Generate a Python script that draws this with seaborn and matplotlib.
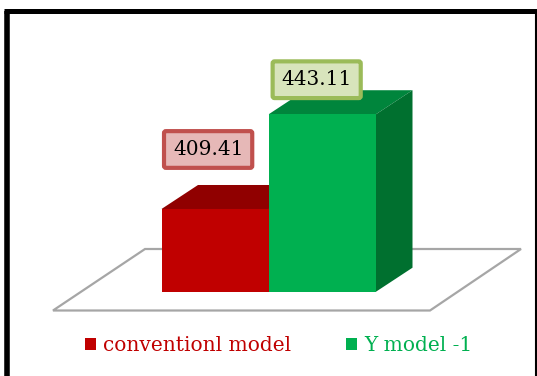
import matplotlib
matplotlib.use("Agg")
import matplotlib.pyplot as plt
import pandas as pd
import seaborn as sns
from matplotlib.lines import Line2D
from matplotlib.patches import Polygon
from matplotlib.transforms import IdentityTransform

models = ["conventionl model", "Y model -1"]
values = [409.41, 443.11]
front_colors = ["#C00000", "#00B050"]
top_colors = ["#900000", "#00853C"]
side_colors = ["#7A0000", "#00702F"]
label_faces = ["#E6B8B7", "#D8E4BC"]
label_edges = ["#C0504D", "#9BBB59"]
label_offsets = [(-7, 59.5), (-5.7, 34.5)]

W, H = 537, 376
DEPTH_X, DEPTH_Y = 36.5, 24


def fig_xy(px, py):
    return px / W, 1 - py / H


sns.set_theme(style="white")
plt.rcParams["font.family"] = ["DejaVu Serif"]

fig = plt.figure(figsize=(W / 100, H / 100), dpi=100, facecolor="white")
left, right, top, bottom = 161.5, 376, 61.1, 291.7
ax = fig.add_axes([left / W, 1 - bottom / H, (right - left) / W, (bottom - top) / H])

data = pd.DataFrame({"model": models, "value": values})
sns.barplot(
    data=data, x="model", y="value", hue="model", palette=front_colors,
    width=1, dodge=False, saturation=1, linewidth=0, edgecolor="none",
    ax=ax, legend=True,
)
ax.set_xlim(-0.5, 1.5)
ax.set_ylim(380, 462)
ax.set_axis_off()
fig.canvas.draw()

# Extruded top and side faces, offset from each bar's front face in screen space
bars = [c[0] for c in ax.containers]
for i, bar in enumerate(bars):
    z = 2 + i
    bar.set_zorder(z + 0.5)
    x0, x1 = bar.get_x(), bar.get_x() + bar.get_width()
    (sx0, stop), (sx1, sbase) = ax.transData.transform([(x0, bar.get_height()), (x1, ax.get_ylim()[0])])
    top_face = [(sx0, stop), (sx1, stop), (sx1 + DEPTH_X, stop + DEPTH_Y), (sx0 + DEPTH_X, stop + DEPTH_Y)]
    side_face = [(sx1, stop), (sx1 + DEPTH_X, stop + DEPTH_Y), (sx1 + DEPTH_X, sbase + DEPTH_Y), (sx1, sbase)]
    ax.add_patch(Polygon(top_face, closed=True, fc=top_colors[i], ec="none",
                         transform=IdentityTransform(), clip_on=False, zorder=z))
    ax.add_patch(Polygon(side_face, closed=True, fc=side_colors[i], ec="none",
                         transform=IdentityTransform(), clip_on=False, zorder=z))

    # Boxed value label above the bar
    ax.annotate(
        f"{values[i]:.2f}", xy=((x0 + x1) / 2, values[i]), xycoords="data",
        xytext=(label_offsets[i][0] * 0.72, label_offsets[i][1] * 0.72), textcoords="offset points",
        ha="center", va="center", fontsize=14.5, color="black", zorder=6, annotation_clip=False,
        bbox=dict(boxstyle="round,pad=0.44,rounding_size=0.1", fc=label_faces[i],
                  ec=label_edges[i], lw=3),
    )

# Floor plane under the bars
floor = [fig_xy(53, 310.5), fig_xy(430, 310.5), fig_xy(521, 249), fig_xy(145, 249)]
fig.add_artist(Polygon(floor, closed=True, fc="white", ec="#A6A6A6", lw=1.6,
                       transform=fig.transFigure, zorder=-1))
ax.patch.set_visible(False)

# Outer frame: left, top and right edges only
for (a, b), lw in [
    (((7, 376), (7, 10.5)), 4.0),
    (((4, 10.5), (537, 10.5)), 3.6),
    (((536, 10.5), (536, 376)), 1.5),
]:
    fig.add_artist(Line2D(*zip(fig_xy(*a), fig_xy(*b)), color="black", lw=lw,
                          transform=fig.transFigure, solid_capstyle="butt"))

# Legend with text coloured to follow each series
handles, labels = ax.get_legend_handles_labels()
ax.legend(
    handles, labels, ncol=2, frameon=False, loc="center left",
    bbox_to_anchor=fig_xy(84.5, 345.5), bbox_transform=fig.transFigure,
    handlelength=0.57, handleheight=0.55, handletextpad=0.35, columnspacing=2.7,
    fontsize=14.5, labelcolor=front_colors, borderpad=0, borderaxespad=0,
)

fig.savefig("out.png", dpi=100)
